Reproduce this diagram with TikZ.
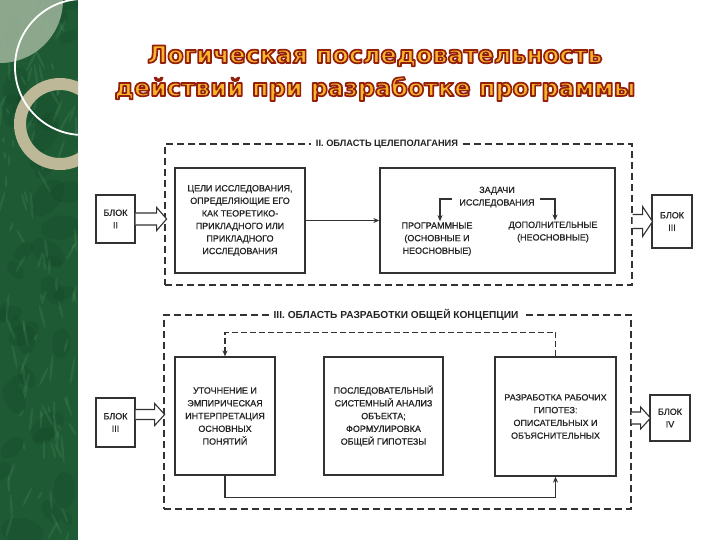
\documentclass[tikz,border=0pt]{standalone}
\usepackage{fontspec}
\setmainfont{Liberation Sans}
\newfontfamily\dgfont[FakeBold=0.7]{Liberation Sans}
\newfontfamily\titlefont{DejaVu Sans}
\usetikzlibrary{arrows.meta,calc}
\definecolor{stripgreen}{RGB}{30,90,52}
\definecolor{striplight}{RGB}{85,155,105}
\definecolor{stripdark}{RGB}{15,62,34}
\definecolor{discgreen}{RGB}{152,176,150}
\definecolor{ringcol}{RGB}{188,184,152}
\definecolor{linec}{RGB}{50,50,50}
\definecolor{textc}{RGB}{35,35,35}
\definecolor{titlefill}{RGB}{248,182,42}
\newcommand\outl[1]{\special{pdf:literal direct q 2 Tr 1.7 w 1 j 0.58 0.12 0.05 RG}#1\special{pdf:literal direct Q}}
\newcommand\holarrow[5]{\draw[hol] (#1) ++(0,-#4) -- ++(#2,0) -- ++(0,{-(#5-#4)}) -- ++(#3,#5) -- ++(-#3,#5) -- ++(0,{-(#5-#4)}) -- ++(-#2,0);}
\begin{document}
\begin{tikzpicture}[x=1bp,y=-1bp,
  region/.style={draw=linec, line width=1.1bp, dash pattern=on 7bp off 4bp},
  box/.style={draw=linec, line width=1.3bp, fill=white, align=center, text=textc,
    font=\dgfont\fontsize{9}{12.6}\selectfont, inner sep=2bp},
  txt/.style={align=center, text=textc, font=\dgfont\fontsize{9}{12.6}\selectfont, inner sep=1bp},
  lab/.style={fill=white, text=textc, inner xsep=5bp, inner ysep=1bp, font=\bfseries},
  arr/.style={draw=linec, line width=1.2bp, -{Stealth[length=6bp,width=5bp]}},
  darr/.style={arr, dash pattern=on 6bp off 3bp},
  hol/.style={draw=linec, line width=1.1bp, fill=white, line join=miter},
  ttl/.style={font=\titlefont\fontsize{24}{28}\selectfont\bfseries, text=titlefill, inner sep=0pt, anchor=base}
]
\useasboundingbox (0,0) rectangle (720,540);
\fill[white] (0,0) rectangle (720,540);
% decorative strip
\begin{scope}
  \clip (0,0) rectangle (78,540);
  \fill[stripgreen] (0,0) rectangle (78,540);
  \pgfmathsetseed{11}
  \foreach \i in {1,...,40}{
    \pgfmathsetmacro\xx{rnd*78}
    \pgfmathsetmacro\yy{rnd*540}
    \pgfmathsetmacro\rr{8+rnd*14}
    \pgfmathsetmacro\ang{rnd*180}
    \fill[stripdark, opacity=0.18, rotate around={\ang:(\xx,\yy)}] (\xx,\yy) ellipse [x radius=\rr pt, y radius=0.6*\rr pt];
  }
  \foreach \i in {1,...,110}{
    \pgfmathsetmacro\xx{rnd*78}
    \pgfmathsetmacro\yy{rnd*540}
    \pgfmathsetmacro\rr{3+rnd*12}
    \pgfmathsetmacro\ang{60+rnd*60}
    \fill[striplight, opacity=0.2, rotate around={\ang:(\xx,\yy)}] (\xx,\yy) ellipse [x radius=\rr pt, y radius=1.3pt];
  }
  \fill[discgreen, opacity=0.9] (0,0) circle [radius=63];
  \draw[ringcol, line width=12bp] (60,124) circle [radius=40];
  \draw[white, line width=1.8bp] (83,67) circle [radius=68];
\end{scope}
% title
\node[ttl] (t1) at (375,63) {\outl{Логическая последовательность}};
\node[ttl] (t2) at (375,96) {\outl{действий при разработке программы}};
% regions
\node[region, minimum width=467bp, minimum height=141bp] (regA) at (398.5,214.5) {};
\node[region, minimum width=467bp, minimum height=194bp] (regB) at (397.5,412) {};
\node[lab, font=\fontsize{9.3}{11}\selectfont\bfseries] (labA) at (387,144) {II. ОБЛАСТЬ ЦЕЛЕПОЛАГАНИЯ};
\node[lab, font=\fontsize{10.2}{12}\selectfont\bfseries] (labB) at (396,315) {III. ОБЛАСТЬ РАЗРАБОТКИ ОБЩЕЙ КОНЦЕПЦИИ};
% top boxes
\node[box, minimum width=130bp, minimum height=105bp] (b1) at (240,220.5)
  {ЦЕЛИ ИССЛЕДОВАНИЯ,\\ОПРЕДЕЛЯЮЩИЕ ЕГО\\КАК ТЕОРЕТИКО-\\ПРИКЛАДНОГО ИЛИ\\ПРИКЛАДНОГО\\ИССЛЕДОВАНИЯ};
\node[box, minimum width=235bp, minimum height=105bp] (b2) at (497.5,220.5) {};
\node[txt] (zad) at (497,197) {ЗАДАЧИ\\ИССЛЕДОВАНИЯ};
\node[txt] (prog) at (437,239) {ПРОГРАММНЫЕ\\(ОСНОВНЫЕ И\\НЕОСНОВНЫЕ)};
\node[txt] (dop) at (553,232) {ДОПОЛНИТЕЛЬНЫЕ\\(НЕОСНОВНЫЕ)};
\coordinate (zl) at (452,199);
\coordinate (zr) at (540,199);
\draw[arr] (zl) -| ([xshift=3bp]prog.north);
\draw[arr] (zr) -| ([xshift=2bp]dop.north);
\draw[arr] (b1) -- (b2);
\node[box, minimum width=39bp, minimum height=48bp] (blk2) at (115.5,219) {БЛОК\\II};
\node[box, minimum width=40bp, minimum height=53bp] (blk3r) at (672,221.5) {БЛОК\\III};
\holarrow{blk2.east}{21}{10}{6}{11.5}
\holarrow{regA.east |- blk3r.west}{10}{10}{7}{15}
% bottom boxes
\node[box, minimum width=100bp, minimum height=118bp, font=\dgfont\fontsize{9}{12.8}\selectfont] (bA) at (225,416)
  {УТОЧНЕНИЕ И\\ЭМПИРИЧЕСКАЯ\\ИНТЕРПРЕТАЦИЯ\\ОСНОВНЫХ\\ПОНЯТИЙ};
\node[box, minimum width=119bp, minimum height=118bp, font=\dgfont\fontsize{9}{12.8}\selectfont] (bB) at (383.5,416)
  {ПОСЛЕДОВАТЕЛЬНЫЙ\\СИСТЕМНЫЙ АНАЛИЗ\\ОБЪЕКТА;\\ФОРМУЛИРОВКА\\ОБЩЕЙ ГИПОТЕЗЫ};
\node[box, minimum width=121bp, minimum height=119bp, font=\dgfont\fontsize{9}{12.8}\selectfont] (bC) at (555.5,416.5)
  {РАЗРАБОТКА РАБОЧИХ\\ГИПОТЕЗ:\\ОПИСАТЕЛЬНЫХ И\\ОБЪЯСНИТЕЛЬНЫХ};
\draw[darr] (bC.north) -- ++(0,-24) -| (bA.north);
\draw[arr] (bA.south) -- ++(0,22) -| (bC.south);
\node[box, minimum width=39bp, minimum height=49bp] (blk3l) at (115.5,422.5) {БЛОК\\III};
\node[box, minimum width=40bp, minimum height=46bp] (blk4) at (670,418) {БЛОК\\IV};
\holarrow{[yshift=8bp]blk3l.east}{19}{10}{5}{11}
\holarrow{regB.east |- blk4.west}{9}{10}{6}{11}
\end{tikzpicture}
\end{document}
